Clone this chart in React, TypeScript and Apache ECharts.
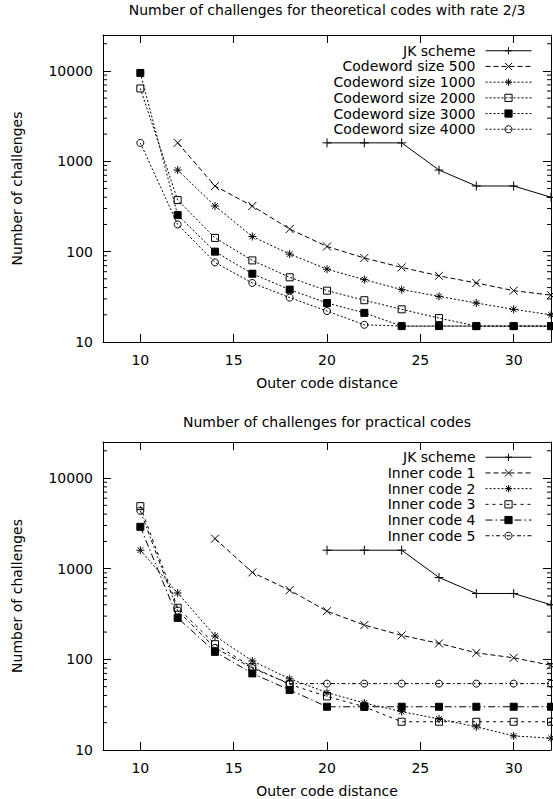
import React, { useEffect, useRef } from 'react';
import * as echarts from 'echarts';

const FONT = 'DejaVu Sans';

// Outer code distance (x)
const distances = [10, 12, 14, 16, 18, 20, 22, 24, 26, 28, 30, 32];

// Top chart: theoretical codes with rate 2/3
const jkScheme = [null, null, null, null, null, 1600, 1600, 1600, 800, 533, 533, 400];
const codeword500 = [null, 1600, 532, 320, 178, 114, 85, 67, 54, 45, 37, 33];
const codeword1000 = [null, 800, 320, 147, 94, 64, 49, 38, 32, 27, 23, 20];
const codeword2000 = [6400, 372, 142, 80, 52, 37, 29, 23, 18.4, 15, 15, 15];
const codeword3000 = [9500, 254, 100, 57, 38, 27, 21, 15, 15, 15, 15, 15];
const codeword4000 = [1600, 200, 76, 45, 31, 22, 15.5, 15, 15, 15, 15, 15];

// Bottom chart: practical codes
const innerCode1 = [null, null, 2150, 910, 580, 340, 239, 184, 150, 118, 104, 86];
const innerCode2 = [1600, 540, 181, 96, 61, 43, 33, 26.5, 22, 18, 14.3, 13.5];
const innerCode3 = [4900, 371, 147, 82, 53, 39, 30, 20.5, 20.5, 20.5, 20.5, 20.5];
const innerCode4 = [2900, 287, 121, 70, 46, 30, 30, 30, 30, 30, 30, 30];
const innerCode5 = [4350, 345, 134, 80, 54, 54, 54, 54, 54, 54, 54, 54];

// Axis ranges / ticks
const xMin = 8;
const xMax = 32;
const yMin = 10;
const yMax = 25000;
const minorTickValues = [
  20, 30, 40, 50, 60, 70, 80, 90,
  200, 300, 400, 500, 600, 700, 800, 900,
  2000, 3000, 4000, 5000, 6000, 7000, 8000, 9000,
  20000,
];

const topTitle = 'Number of challenges for theoretical codes with rate 2/3';
const bottomTitle = 'Number of challenges for practical codes';
const xName = 'Outer code distance';
const yName = 'Number of challenges';

const PLUS = 'path://M0,5L10,5M5,0L5,10';
const CROSS = 'path://M0,0L10,10M10,0L0,10';
const STAR = 'path://M0,5L10,5M5,0L5,10M1.5,1.5L8.5,8.5M8.5,1.5L1.5,8.5';

const pts = (vals: (number | null)[]) =>
  distances
    .map((d, i) => (vals[i] == null ? null : [d, vals[i]]))
    .filter((p) => p !== null);

function lineSeries(
  name: string,
  vals: (number | null)[],
  g: number,
  symbol: string,
  size: number,
  dash: any,
  fill: string
) {
  return {
    type: 'line',
    name,
    xAxisIndex: g,
    yAxisIndex: g,
    data: pts(vals),
    symbol,
    symbolSize: size,
    symbolKeepAspect: true,
    showSymbol: true,
    showAllSymbol: true,
    silent: true,
    emphasis: { disabled: true },
    lineStyle: { color: '#000', width: 1, type: dash },
    itemStyle: { color: fill, borderColor: '#000', borderWidth: 1 },
  };
}

function minorTickSeries(g: number) {
  return {
    type: 'custom',
    name: '',
    xAxisIndex: g,
    yAxisIndex: g,
    silent: true,
    clip: false,
    data: minorTickValues.map((v) => [20, v]),
    renderItem: (params: any, api: any) => {
      const y = api.coord([api.value(0), api.value(1)])[1];
      const cs = params.coordSys;
      return {
        type: 'group',
        children: [
          { type: 'line', shape: { x1: cs.x, y1: y, x2: cs.x + 4, y2: y }, style: { stroke: '#000', lineWidth: 1 } },
          {
            type: 'line',
            shape: { x1: cs.x + cs.width - 4, y1: y, x2: cs.x + cs.width, y2: y },
            style: { stroke: '#000', lineWidth: 1 },
          },
        ],
      };
    },
  };
}

const axisLine = { show: true, lineStyle: { color: '#000', width: 1 } };
const majorTick = { show: true, inside: true, length: 8, lineStyle: { color: '#000', width: 1 } };

function xAxis(g: number, position: string, labels: boolean) {
  return {
    gridIndex: g,
    type: 'value',
    min: xMin,
    max: xMax,
    position,
    axisLine,
    axisTick: majorTick,
    splitLine: { show: false },
    axisLabel: {
      show: labels,
      color: '#000',
      fontFamily: FONT,
      fontSize: 14,
      margin: 11,
      showMinLabel: false,
      showMaxLabel: false,
    },
  };
}

function yAxis(g: number, position: string, labels: boolean) {
  return {
    gridIndex: g,
    type: 'log',
    logBase: 10,
    min: yMin,
    max: yMax,
    position,
    axisLine,
    axisTick: majorTick,
    splitLine: { show: false },
    axisLabel: {
      show: labels,
      color: '#000',
      fontFamily: FONT,
      fontSize: 14,
      margin: 10,
      showMaxLabel: false,
      formatter: (v: number) => String(Math.round(v)),
    },
  };
}

function legend(names: string[], top: number) {
  return {
    data: names,
    orient: 'vertical',
    right: 21,
    top,
    padding: 0,
    align: 'right',
    itemWidth: 46,
    itemHeight: 9,
    itemGap: 0,
    selectedMode: false,
    lineStyle: { width: 1 },
    itemStyle: { borderWidth: 1 },
    textStyle: { fontFamily: FONT, fontSize: 14, color: '#000', lineHeight: 15.7, padding: [0, 5, 0, 0] },
  };
}

function text(str: string, x: number, y: number, rotation = 0) {
  return {
    type: 'text',
    x,
    y,
    rotation,
    silent: true,
    style: {
      text: str,
      fontFamily: FONT,
      fontSize: 14,
      fill: '#000',
      align: 'center',
      verticalAlign: 'middle',
      textAlign: 'center',
      textVerticalAlign: 'middle',
    },
  };
}

export default function App() {
  const ref = useRef<HTMLDivElement>(null);
  useEffect(() => {
    if (!ref.current) return;
    const chart = echarts.init(ref.current, null, { renderer: 'svg' });
    const topNames = [
      'JK scheme',
      'Codeword size 500',
      'Codeword size 1000',
      'Codeword size 2000',
      'Codeword size 3000',
      'Codeword size 4000',
    ];
    const bottomNames = ['JK scheme', 'Inner code 1', 'Inner code 2', 'Inner code 3', 'Inner code 4', 'Inner code 5'];
    const dotted = [2, 2];
    chart.setOption({
      animation: false,
      backgroundColor: '#fff',
      textStyle: { fontFamily: FONT },
      grid: [
        { left: 103, top: 35, width: 448, height: 307 },
        { left: 103, top: 442, width: 448, height: 308 },
      ],
      xAxis: [xAxis(0, 'bottom', true), xAxis(1, 'bottom', true), xAxis(0, 'top', false), xAxis(1, 'top', false)],
      yAxis: [yAxis(0, 'left', true), yAxis(1, 'left', true), yAxis(0, 'right', false), yAxis(1, 'right', false)],
      legend: [legend(topNames, 42.9), legend(bottomNames, 449.4)],
      graphic: [
        text(topTitle, 327, 10.3),
        text(xName, 327, 383),
        text(yName, 17, 188.5, Math.PI / 2),
        text(bottomTitle, 327, 422),
        text(xName, 327, 791),
        text(yName, 17, 596, Math.PI / 2),
      ],
      series: [
        minorTickSeries(0),
        minorTickSeries(1),
        lineSeries('JK scheme', jkScheme, 0, PLUS, 9, 'solid', 'transparent'),
        lineSeries('Codeword size 500', codeword500, 0, CROSS, 8, [5, 3], 'transparent'),
        lineSeries('Codeword size 1000', codeword1000, 0, STAR, 8, dotted, 'transparent'),
        lineSeries('Codeword size 2000', codeword2000, 0, 'rect', 7, dotted, 'transparent'),
        lineSeries('Codeword size 3000', codeword3000, 0, 'rect', 7, dotted, '#000'),
        lineSeries('Codeword size 4000', codeword4000, 0, 'circle', 7, dotted, 'transparent'),
        lineSeries('JK scheme', jkScheme, 1, PLUS, 9, 'solid', 'transparent'),
        lineSeries('Inner code 1', innerCode1, 1, CROSS, 8, [5, 3], 'transparent'),
        lineSeries('Inner code 2', innerCode2, 1, STAR, 8, dotted, 'transparent'),
        lineSeries('Inner code 3', innerCode3, 1, 'rect', 7, [3, 4], 'transparent'),
        lineSeries('Inner code 4', innerCode4, 1, 'rect', 7, [7, 3, 1.5, 3], '#000'),
        lineSeries('Inner code 5', innerCode5, 1, 'circle', 7, [4, 2.5, 1.5, 2.5], 'transparent'),
      ],
    });
    return () => chart.dispose();
  }, []);
  return <div ref={ref} style={{ position: 'fixed', left: 0, top: 0, width: 553, height: 799 }} />;
}
